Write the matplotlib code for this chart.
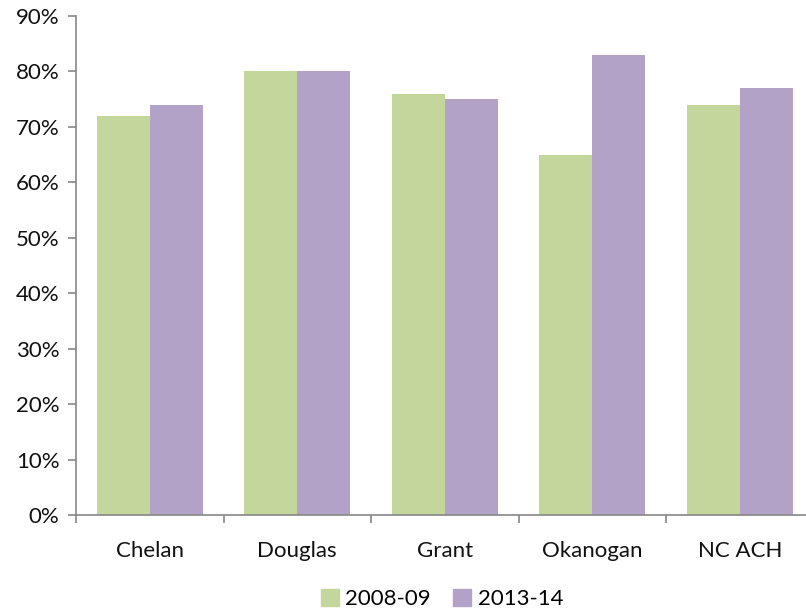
import matplotlib.pyplot as plt
import numpy as np
from matplotlib.patches import Patch

counties = ['Chelan', 'Douglas', 'Grant', 'Okanogan', 'NC ACH']
vals_0809 = [72, 80, 76, 65, 74]
vals_1314 = [74, 80, 75, 83, 77]
series_names = ['2008-09', '2013-14']

green = '#c3d69b'
purple = '#b3a2c7'
axis_grey = '#868686'

plt.rcParams['font.family'] = ['Lato', 'DejaVu Sans']

fig = plt.figure(figsize=(8.06, 6.13), dpi=100)
ax = fig.add_axes([76 / 806, 1 - 515 / 613, 737.5 / 806, 499 / 613])

x = np.arange(len(counties))
w = 0.36
ax.bar(x - w / 2, vals_0809, w, color=green, linewidth=0)
ax.bar(x + w / 2, vals_1314, w, color=purple, linewidth=0)

ax.set_xlim(-0.5, len(counties) - 0.5)
ax.set_ylim(0, 90)
ax.set_yticks(range(0, 91, 10))
ax.set_yticklabels([f'{v}%' for v in range(0, 91, 10)], fontsize=16, color='#111111')

# category labels centred, tick marks at category boundaries
ax.set_xticks(x)
ax.set_xticklabels(counties, fontsize=16, color='#111111')
ax.tick_params(axis='x', length=0, pad=19)
ax.set_xticks(np.arange(-0.5, len(counties), 1), minor=True)
ax.tick_params(axis='x', which='minor', length=6, color=axis_grey, width=1.2)
ax.tick_params(axis='y', length=6, color=axis_grey, width=1.2, pad=6)

for s in ['top', 'right']:
    ax.spines[s].set_visible(False)
for s in ['left', 'bottom']:
    ax.spines[s].set_color(axis_grey)
    ax.spines[s].set_linewidth(1.2)

handles = [Patch(color=green), Patch(color=purple)]
fig.legend(handles, series_names, loc='center', bbox_to_anchor=(442 / 806, 1 - 599 / 613),
           ncol=2, frameon=False, fontsize=16, handlelength=0.8, handleheight=0.8,
           handletextpad=0.3, columnspacing=1.0)

fig.savefig('out.png', dpi=100)
